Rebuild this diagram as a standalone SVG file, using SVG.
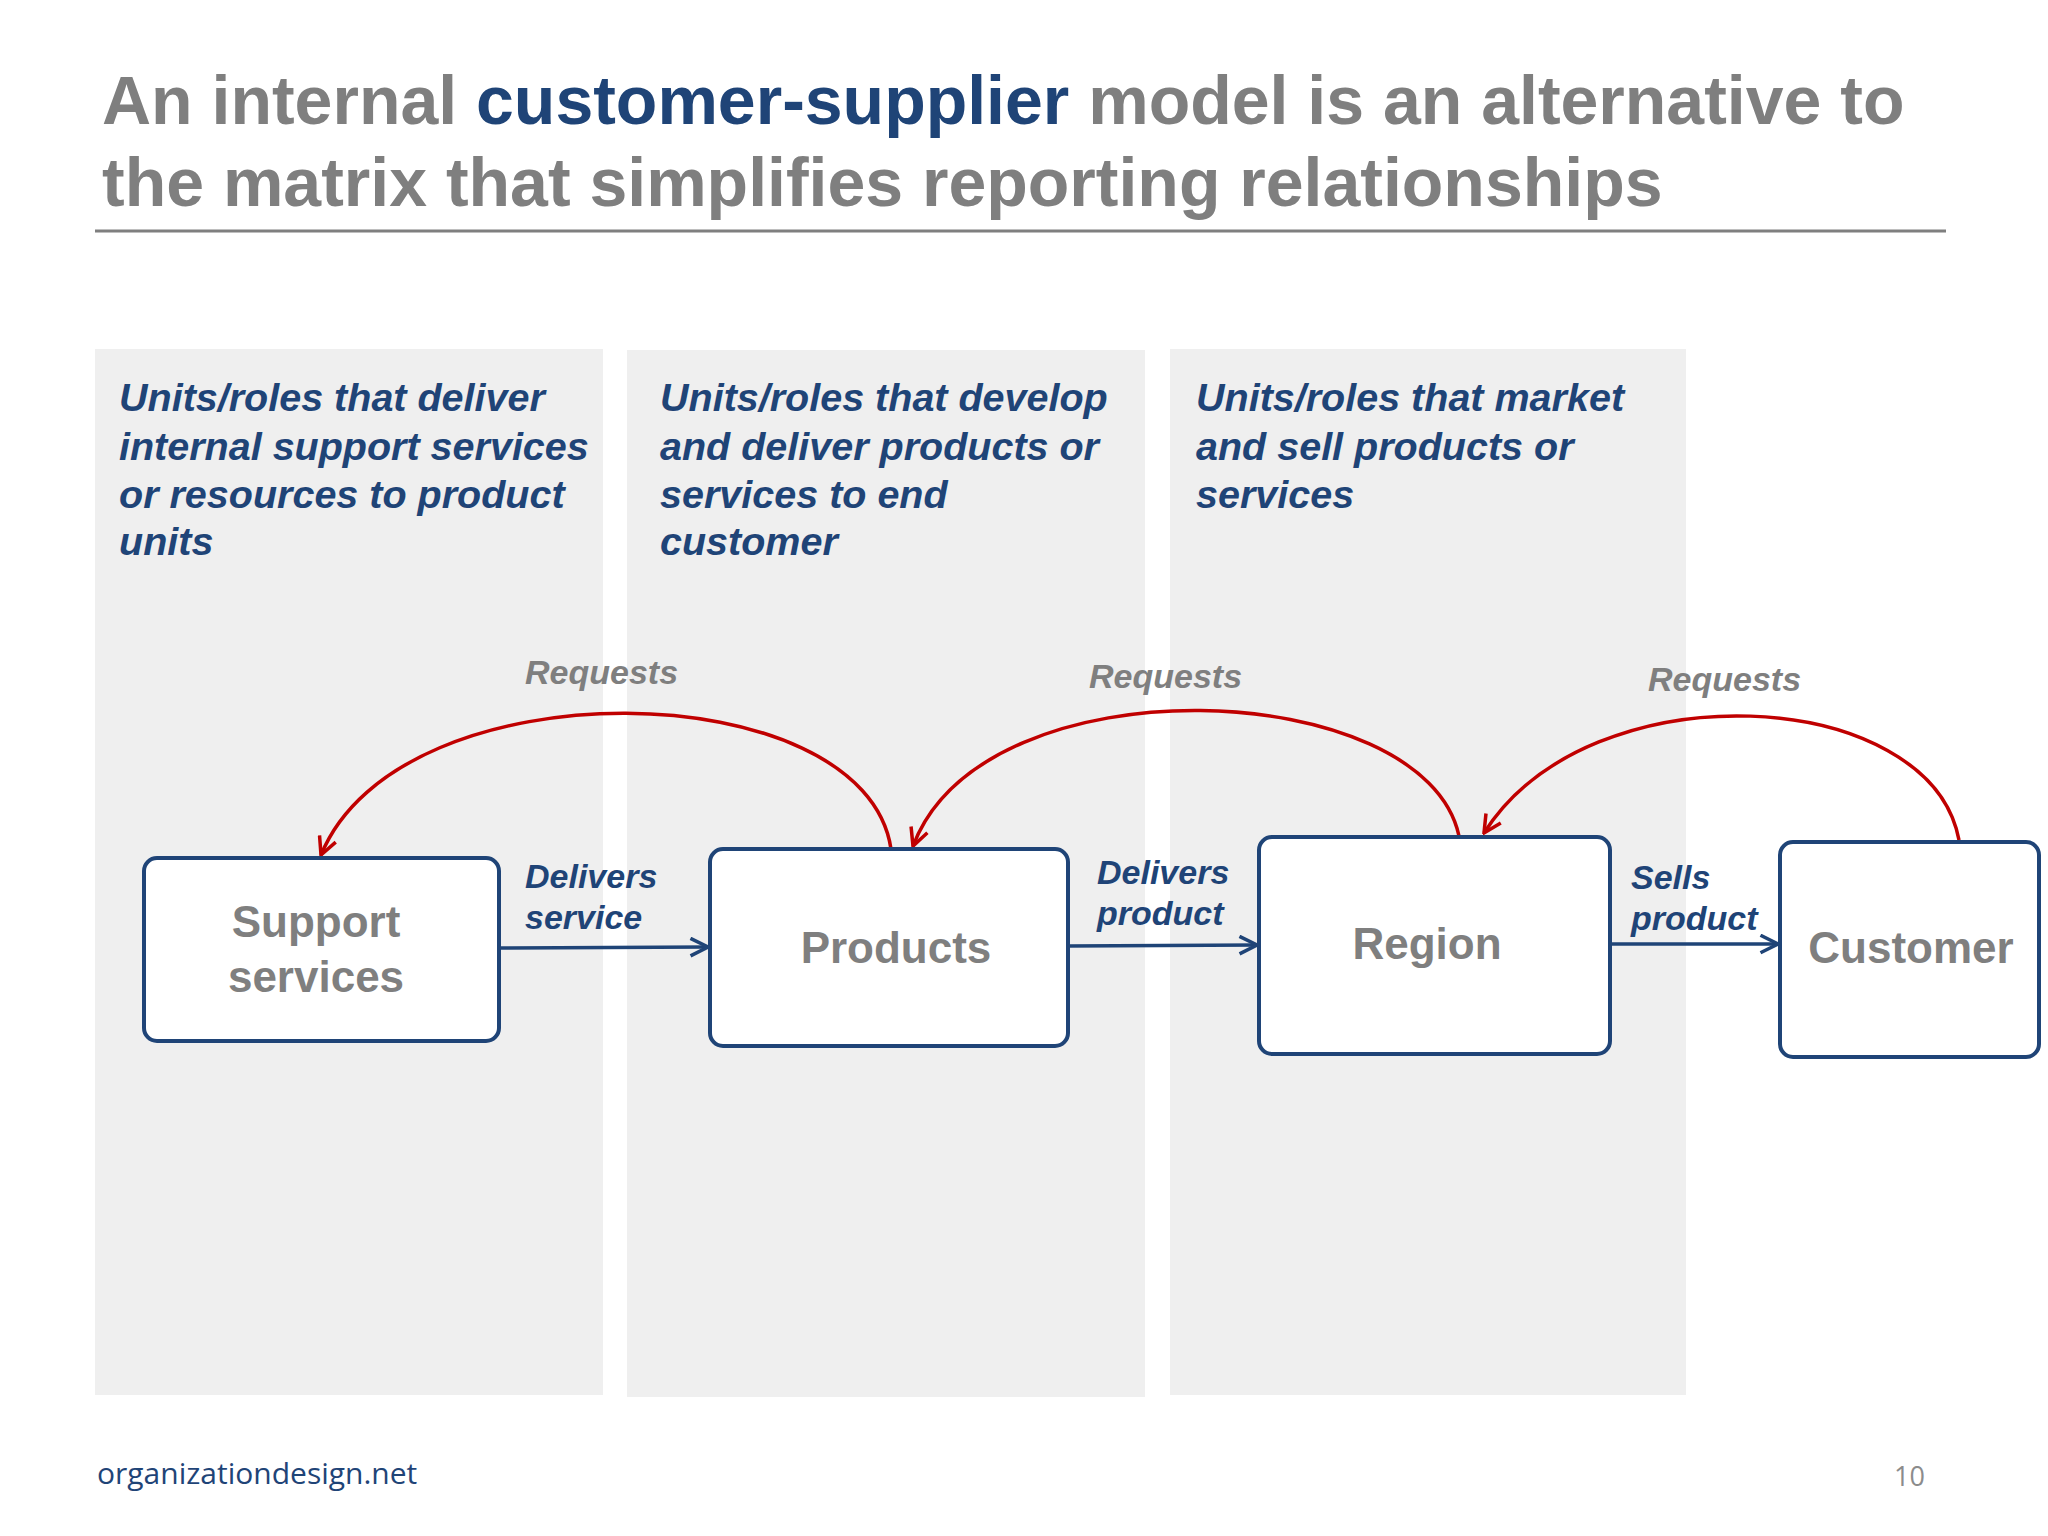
<svg xmlns="http://www.w3.org/2000/svg" width="2048" height="1536" viewBox="0 0 2048 1536">
<defs>
<style>
.title{font-family:"Liberation Sans",Arial,sans-serif;font-weight:bold;font-size:68px;fill:#7f7f7f}
.panel{fill:#efefef}
.ptxt{font-family:"Liberation Sans",Arial,sans-serif;font-weight:bold;font-style:italic;font-size:39.5px;fill:#1f4477}
.box{fill:#fff;stroke:#1f4477;stroke-width:4}
.btxt{font-family:"Liberation Sans",Arial,sans-serif;font-weight:bold;font-size:44px;fill:#7f7f7f;text-anchor:middle}
.blue{stroke:#1f4477;stroke-width:3.5;fill:none;marker-end:url(#ab)}
.red{stroke:#c00000;stroke-width:3.5;fill:none;marker-end:url(#ar)}
.lbl{font-family:"Liberation Sans",Arial,sans-serif;font-weight:bold;font-style:italic;font-size:34px;fill:#1f4477}
.req{font-family:"Liberation Sans",Arial,sans-serif;font-weight:bold;font-style:italic;font-size:34px;fill:#7f7f7f}
</style>
<marker id="ab" viewBox="0 0 12 12" refX="11" refY="6" markerWidth="6" markerHeight="6" orient="auto" markerUnits="strokeWidth"><path d="M1 1 L11 6 L1 11" fill="none" stroke="#1f4477" stroke-width="2"/></marker>
<marker id="ar" viewBox="0 0 12 12" refX="11" refY="6" markerWidth="6" markerHeight="6" orient="auto" markerUnits="strokeWidth"><path d="M1 1 L11 6 L1 11" fill="none" stroke="#c00000" stroke-width="2"/></marker>
</defs>
<rect width="2048" height="1536" fill="#fff"/>
<text class="title" x="102" y="124">An internal <tspan fill="#1f4477">customer-supplier</tspan> model is an alternative to</text>
<text class="title" x="102" y="206">the matrix that simplifies reporting relationships</text>
<line x1="95" y1="231" x2="1946" y2="231" stroke="#7f7f7f" stroke-width="3"/>
<rect class="panel" x="95" y="349" width="508" height="1046"/>
<rect class="panel" x="627" y="350" width="518" height="1047"/>
<rect class="panel" x="1170" y="349" width="516" height="1046"/>
<text class="ptxt"><tspan x="119" y="411">Units/roles that deliver</tspan><tspan x="119" y="460">internal support services</tspan><tspan x="119" y="508">or resources to product</tspan><tspan x="119" y="555">units</tspan></text>
<text class="ptxt"><tspan x="660" y="411">Units/roles that develop</tspan><tspan x="660" y="460">and deliver products or</tspan><tspan x="660" y="508">services to end</tspan><tspan x="660" y="555">customer</tspan></text>
<text class="ptxt"><tspan x="1196" y="411">Units/roles that market</tspan><tspan x="1196" y="460">and sell products or</tspan><tspan x="1196" y="508">services</tspan></text>
<g id="connectors">
<path class="blue" d="M499 948 L708 947"/>
<path class="blue" d="M1068 946 L1257 945"/>
<path class="blue" d="M1610 944 L1778 944"/>
<path class="red" d="M891 849 C865 672 400 662 321 855"/>
<path class="red" d="M1459 836 C1425 677 985 657 913 846"/>
<path class="red" d="M1959 840 C1930 686 1590 666 1484 833"/>
<text class="lbl"><tspan x="525" y="888">Delivers</tspan><tspan x="525" y="929">service</tspan></text>
<text class="lbl"><tspan x="1097" y="884">Delivers</tspan><tspan x="1097" y="925">product</tspan></text>
<text class="lbl"><tspan x="1631" y="889">Sells</tspan><tspan x="1631" y="930">product</tspan></text>
<text class="req" x="525" y="684">Requests</text>
<text class="req" x="1089" y="688">Requests</text>
<text class="req" x="1648" y="691">Requests</text>
</g>
<g id="support"><rect class="box" x="144" y="858" width="355" height="183" rx="13"/><text class="btxt"><tspan x="316" y="937">Support</tspan><tspan x="316" y="992">services</tspan></text></g>
<g id="products"><rect class="box" x="710" y="849" width="358" height="197" rx="13"/><text class="btxt" x="896" y="963">Products</text></g>
<g id="region"><rect class="box" x="1259" y="837" width="351" height="217" rx="13"/><text class="btxt" x="1427" y="959">Region</text></g>
<g id="customer"><rect class="box" x="1780" y="842" width="259" height="215" rx="13"/><text class="btxt" x="1911" y="963">Customer</text></g>
<text x="97" y="1484" font-family="'Open Sans',sans-serif" font-size="30" fill="#1f4477">organizationdesign.net</text>
<text x="1925" y="1486" font-family="'Open Sans',sans-serif" font-size="27" fill="#8c8c8c" text-anchor="end">10</text>
</svg>
